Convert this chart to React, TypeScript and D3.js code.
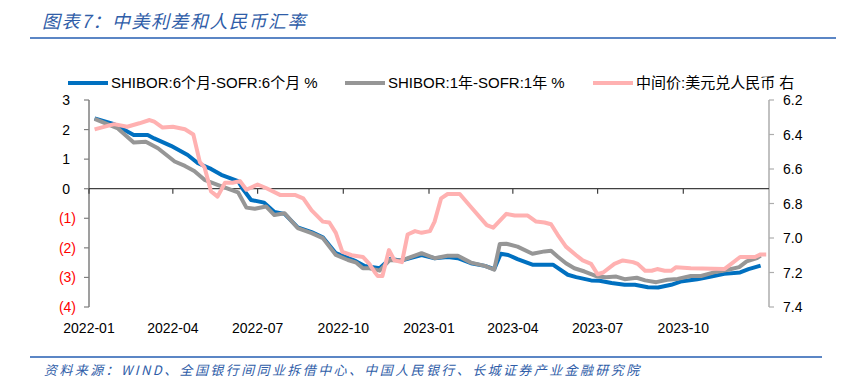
import React from "react";
import * as d3 from "d3";

const titleText = "图表7：中美利差和人民币汇率";
const footerText = "资料来源：WIND、全国银行间同业拆借中心、中国人民银行、长城证券产业金融研究院";

const legendLabels = ["SHIBOR:6个月-SOFR:6个月 %", "SHIBOR:1年-SOFR:1年 %", "中间价:美元兑人民币 右"];

const xTickLabels = ["2022-01", "2022-04", "2022-07", "2022-10", "2023-01", "2023-04", "2023-07", "2023-10"];
const leftTicks = [3, 2, 1, 0, -1, -2, -3, -4];
const rightTicks = [6.2, 6.4, 6.6, 6.8, 7.0, 7.2, 7.4];

// SHIBOR 6M - SOFR 6M (%)
const sixMonthDates = ["2022-01-07","2022-01-28","2022-02-18","2022-03-05","2022-03-12","2022-03-30","2022-04-17","2022-04-28","2022-05-12","2022-05-23","2022-06-10","2022-06-15","2022-06-24","2022-07-08","2022-07-19","2022-07-30","2022-08-13","2022-08-28","2022-09-09","2022-09-23","2022-10-04","2022-10-15","2022-10-24","2022-11-09","2022-11-20","2022-12-02","2022-12-24","2023-01-07","2023-01-21","2023-02-01","2023-02-15","2023-03-02","2023-03-12","2023-03-19","2023-03-27","2023-04-06","2023-04-22","2023-05-08","2023-05-14","2023-05-30","2023-06-08","2023-06-24","2023-07-03","2023-07-16","2023-07-30","2023-08-10","2023-08-24","2023-09-04","2023-09-18","2023-09-28","2023-10-16","2023-10-31","2023-11-14","2023-12-01","2023-12-10","2023-12-23"];
const sixMonthValues = [2.38,2.18,1.82,1.82,1.70,1.45,1.14,0.86,0.67,0.47,0.26,0.00,-0.38,-0.47,-0.79,-0.85,-1.31,-1.47,-1.64,-2.18,-2.31,-2.46,-2.61,-2.69,-2.38,-2.43,-2.24,-2.35,-2.31,-2.35,-2.52,-2.61,-2.72,-2.20,-2.24,-2.38,-2.57,-2.57,-2.57,-2.91,-2.99,-3.10,-3.11,-3.19,-3.25,-3.25,-3.33,-3.34,-3.25,-3.14,-3.06,-2.97,-2.88,-2.83,-2.72,-2.60];

// SHIBOR 1Y - SOFR 1Y (%)
const oneYearDates = ["2022-01-07","2022-02-01","2022-02-18","2022-03-03","2022-03-16","2022-04-03","2022-04-14","2022-04-24","2022-05-05","2022-05-19","2022-06-10","2022-06-19","2022-06-28","2022-07-10","2022-07-19","2022-07-30","2022-08-13","2022-08-28","2022-09-09","2022-09-23","2022-10-06","2022-10-15","2022-10-22","2022-10-29","2022-11-09","2022-11-20","2022-12-02","2022-12-24","2023-01-07","2023-01-21","2023-02-01","2023-02-15","2023-03-02","2023-03-12","2023-03-18","2023-03-25","2023-04-06","2023-04-22","2023-05-05","2023-05-12","2023-05-19","2023-05-28","2023-06-06","2023-06-17","2023-07-01","2023-07-10","2023-07-21","2023-07-30","2023-08-12","2023-08-21","2023-09-02","2023-09-14","2023-09-25","2023-10-09","2023-10-20","2023-11-03","2023-11-18","2023-11-30","2023-12-08","2023-12-19","2023-12-23"];
const oneYearValues = [2.36,2.04,1.56,1.59,1.37,0.92,0.77,0.60,0.30,0.13,-0.12,-0.64,-0.68,-0.60,-0.89,-0.83,-1.33,-1.50,-1.67,-2.24,-2.41,-2.50,-2.69,-2.69,-2.77,-2.41,-2.43,-2.18,-2.35,-2.27,-2.27,-2.50,-2.61,-2.74,-1.87,-1.86,-1.96,-2.20,-2.12,-2.10,-2.29,-2.52,-2.69,-2.80,-2.97,-2.99,-2.97,-3.06,-3.01,-3.10,-3.16,-3.08,-3.05,-2.95,-2.95,-2.83,-2.74,-2.65,-2.46,-2.35,-2.26];

// USD/CNY central parity (right axis, inverted)
const cnyDates = ["2022-01-07","2022-01-28","2022-02-11","2022-02-24","2022-03-07","2022-03-12","2022-03-21","2022-04-01","2022-04-14","2022-04-23","2022-04-30","2022-05-05","2022-05-12","2022-05-19","2022-05-27","2022-06-04","2022-06-12","2022-06-19","2022-07-01","2022-07-10","2022-07-25","2022-08-10","2022-08-19","2022-08-28","2022-09-09","2022-09-16","2022-09-23","2022-09-30","2022-10-10","2022-10-22","2022-10-29","2022-11-04","2022-11-07","2022-11-12","2022-11-19","2022-11-25","2022-12-03","2022-12-09","2022-12-17","2022-12-24","2023-01-02","2023-01-07","2023-01-14","2023-01-21","2023-02-03","2023-02-15","2023-03-04","2023-03-11","2023-03-25","2023-04-03","2023-04-17","2023-04-26","2023-05-05","2023-05-12","2023-05-19","2023-05-28","2023-06-08","2023-06-15","2023-06-24","2023-07-01","2023-07-07","2023-07-19","2023-07-28","2023-08-08","2023-08-13","2023-08-21","2023-08-28","2023-09-03","2023-09-11","2023-09-18","2023-09-23","2023-10-09","2023-11-14","2023-11-19","2023-12-01","2023-12-08","2023-12-17","2023-12-23","2023-12-29"];
const cnyValues = [6.37,6.34,6.355,6.335,6.316,6.326,6.36,6.355,6.37,6.40,6.56,6.59,6.73,6.76,6.68,6.68,6.67,6.72,6.69,6.71,6.75,6.75,6.77,6.84,6.905,6.91,6.97,7.08,7.10,7.11,7.15,7.20,7.22,7.22,7.07,7.13,7.14,6.98,6.96,6.97,6.96,6.905,6.77,6.745,6.745,6.82,6.925,6.94,6.86,6.87,6.87,6.905,6.91,6.92,6.98,7.05,7.10,7.13,7.15,7.21,7.20,7.15,7.13,7.14,7.15,7.19,7.19,7.18,7.19,7.19,7.17,7.175,7.18,7.16,7.11,7.11,7.11,7.095,7.095];

const parse = d3.timeParse("%Y-%m-%d");
const parseMonth = d3.timeParse("%Y-%m");

const W = 864;
const H = 392;
const left = 89;
const right = 769;
const top = 100;
const bottom = 307;

const x = d3.scaleTime().domain([parse("2022-01-01")!, parse("2024-01-01")!]).range([left, right]);
const yL = d3.scaleLinear().domain([-4, 3]).range([bottom, top]);
const yR = d3.scaleLinear().domain([6.2, 7.4]).range([top, bottom]);

type P = { d: Date; v: number };
const zip = (ds: string[], vs: number[]): P[] => ds.map((s, i) => ({ d: parse(s)!, v: vs[i] }));

const blue = "#0070C0";
const gray = "#969696";
const pink = "#FFB1B1";
const frameBlue = "#5B86C5";
const textBlue = "#2F5DA8";
const font = "'Liberation Sans', Arial, 'Noto Sans CJK SC', sans-serif";

export default function App() {
  const lineL = d3.line<P>().x((p) => x(p.d)).y((p) => yL(p.v));
  const lineR = d3.line<P>().x((p) => x(p.d)).y((p) => yR(p.v));
  const s6 = zip(sixMonthDates, sixMonthValues);
  const s1 = zip(oneYearDates, oneYearValues);
  const sc = zip(cnyDates, cnyValues);
  const fmtL = (v: number) => (v < 0 ? `(${Math.abs(v)})` : `${v}`);
  const legendColors = [blue, gray, pink];
  const legendX = [68, 345, 593];

  return (
    <svg width={W} height={H} style={{ position: "absolute", left: 0, top: 0, background: "#fff" }}>
      <text x={42} y={28} fontFamily="'Noto Sans CJK SC', sans-serif" fontSize={18} fontStyle="italic" fill={textBlue} letterSpacing={1.5}>
        {titleText}
      </text>
      <line x1={30} x2={836} y1={38} y2={38} stroke={frameBlue} strokeWidth={2} />

      {/* legend */}
      {legendLabels.map((l, i) => (
        <g key={l}>
          <line x1={legendX[i]} x2={legendX[i] + 40} y1={83} y2={83} stroke={legendColors[i]} strokeWidth={4} />
          <text x={legendX[i] + 43} y={88} fontFamily={font} fontSize={15} fill="#000">
            {l}
          </text>
        </g>
      ))}

      {/* left axis */}
      <line x1={left} x2={left} y1={top} y2={bottom} stroke="#7f7f7f" strokeWidth={1.5} />
      {leftTicks.map((t) => (
        <g key={t}>
          <line x1={left - 5} x2={left} y1={yL(t)} y2={yL(t)} stroke="#7f7f7f" strokeWidth={1.2} />
          <text x={t < 0 ? 76 : 70} y={yL(t) + 5} textAnchor="end" fontFamily={font} fontSize={14} fill={t < 0 ? "#FF0000" : "#000"}>
            {fmtL(t)}
          </text>
        </g>
      ))}

      {/* right axis */}
      <line x1={right} x2={right} y1={top} y2={bottom} stroke="#ADADAD" strokeWidth={1.5} />
      {rightTicks.map((t) => (
        <g key={t}>
          <line x1={right} x2={right + 5} y1={yR(t)} y2={yR(t)} stroke="#ADADAD" strokeWidth={1.2} />
          <text x={783} y={yR(t) + 5} fontFamily={font} fontSize={14} fill="#000">
            {t.toFixed(1)}
          </text>
        </g>
      ))}

      {/* zero line / x axis */}
      <line x1={left} x2={right} y1={yL(0)} y2={yL(0)} stroke="#404040" strokeWidth={1.2} />
      {xTickLabels.map((l) => {
        const xx = x(parseMonth(l)!);
        return (
          <g key={l}>
            <line x1={xx} x2={xx} y1={yL(0)} y2={yL(0) + 5} stroke="#404040" strokeWidth={1.2} />
            <text x={xx} y={333} textAnchor="middle" fontFamily={font} fontSize={14} fill="#000">
              {l}
            </text>
          </g>
        );
      })}

      {/* series */}
      <path d={lineL(s6)!} fill="none" stroke={blue} strokeWidth={4} strokeLinejoin="round" />
      <path d={lineL(s1)!} fill="none" stroke={gray} strokeWidth={4} strokeLinejoin="round" />
      <path d={lineR(sc)!} fill="none" stroke={pink} strokeWidth={4} strokeLinejoin="round" />

      {/* footer */}
      <line x1={30} x2={822} y1={357} y2={357} stroke={frameBlue} strokeWidth={2} />
      <text x={44} y={375} fontFamily="'Noto Sans CJK SC', sans-serif" fontSize={13} fontStyle="italic" fill={textBlue} letterSpacing={2.4}>
        {footerText}
      </text>
    </svg>
  );
}
